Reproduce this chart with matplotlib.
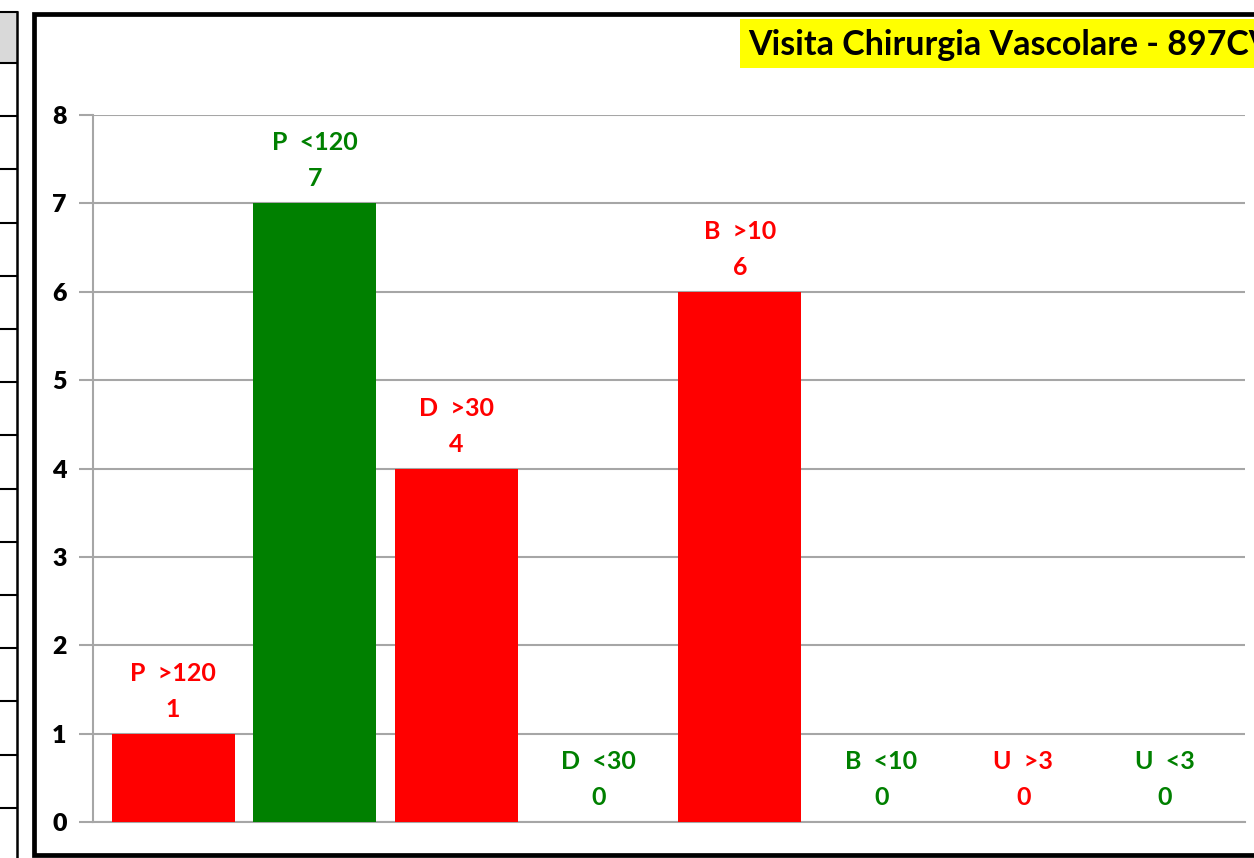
import matplotlib.pyplot as plt
from matplotlib.patches import Rectangle
from matplotlib.lines import Line2D

categories = ["P  >120", "P  <120", "D  >30", "D  <30", "B  >10", "B  <10", "U  >3", "U  <3"]
values = [1, 7, 4, 0, 6, 0, 0, 0]
colors = ["#FF0000", "#008000", "#FF0000", "#008000", "#FF0000", "#008000", "#FF0000", "#008000"]
y_ticks = [0, 1, 2, 3, 4, 5, 6, 7, 8]
title = "Visita Chirurgia Vascolare - 897CV"

W, H = 1254, 858
FONT = "Lato"


def px(x, y):
    # pixel coords (top-left origin) -> figure fraction
    return x / W, 1 - y / H


def draw_table(fig):
    # partial table cut at the left edge of the picture
    x0, y0 = px(0, 12)
    x1, y1 = px(17, 63)
    fig.patches.append(Rectangle((x0, y1), x1 - x0, y0 - y1, transform=fig.transFigure,
                                 facecolor="#D9D9D9", edgecolor="none", zorder=-2))
    fig.lines.append(Line2D([0, x1], [y0, y0], transform=fig.transFigure, color="black", lw=1.5))
    for k in range(15):
        yy = 1 - (63 + 53.2 * k) / H
        fig.lines.append(Line2D([0, x1], [yy, yy], transform=fig.transFigure, color="black", lw=1.5))
    fig.lines.append(Line2D([x1, x1], [0, y0], transform=fig.transFigure, color="black", lw=1.8))


def draw_frame(fig):
    x0, y0 = px(34, 855)
    x1, y1 = px(1270, 14)
    fig.patches.append(Rectangle((x0, y0), x1 - x0, y1 - y0, transform=fig.transFigure,
                                 facecolor="white", edgecolor="black", lw=3.4, zorder=-1))


def main():
    fig = plt.figure(figsize=(W / 100, H / 100), dpi=100)
    draw_table(fig)
    draw_frame(fig)

    left, bottom = px(93, 822)
    right, top = px(1245, 115)
    ax = fig.add_axes([left, bottom, right - left, top - bottom])
    ax.set_facecolor("none")
    ax.set_zorder(1)

    xs = list(range(len(categories)))
    ax.bar(xs, values, width=0.868, color=colors, zorder=3)

    ax.set_xlim(-0.565, 7.565)
    ax.set_ylim(0, 8)
    ax.set_yticks(y_ticks)
    ax.set_yticklabels([str(t) for t in y_ticks], fontsize=18, fontweight="heavy",
                       family=FONT)
    ax.set_xticks([])
    ax.yaxis.grid(True, color="#A6A6A6", lw=1.5, zorder=0)
    for s in ["top", "right"]:
        ax.spines[s].set_visible(False)
    ax.spines["left"].set_color("#A6A6A6")
    ax.spines["left"].set_linewidth(1.5)
    ax.spines["bottom"].set_color("#A6A6A6")
    ax.spines["bottom"].set_linewidth(1.5)
    ax.tick_params(axis="y", length=10, width=1.5, color="#A6A6A6", pad=9)

    for x, v, c, lab in zip(xs, values, colors, categories):
        ax.annotate(str(v), (x, v), xytext=(0, 17), textcoords="offset pixels",
                    ha="center", va="baseline", color=c, fontsize=18,
                    fontweight="bold", family=FONT, zorder=4, annotation_clip=False)
        ax.annotate(lab, (x, v), xytext=(0, 53), textcoords="offset pixels",
                    ha="center", va="baseline", color=c, fontsize=18,
                    fontweight="bold", family=FONT, zorder=4, annotation_clip=False)

    tx, ty = px(748, 55)
    bx0, by0 = px(740, 68)
    bx1, by1 = px(1254, 19)
    fig.patches.append(Rectangle((bx0, by0), bx1 - bx0, by1 - by0, transform=fig.transFigure,
                                 facecolor="#FFFF00", edgecolor="none", zorder=1))
    fig.text(tx, ty, title, ha="left", va="baseline", fontsize=24.5, fontweight="bold",
             family=FONT, color="black", zorder=2)

    fig.savefig("out.png", dpi=100)


if __name__ == '__main__':
    main()
